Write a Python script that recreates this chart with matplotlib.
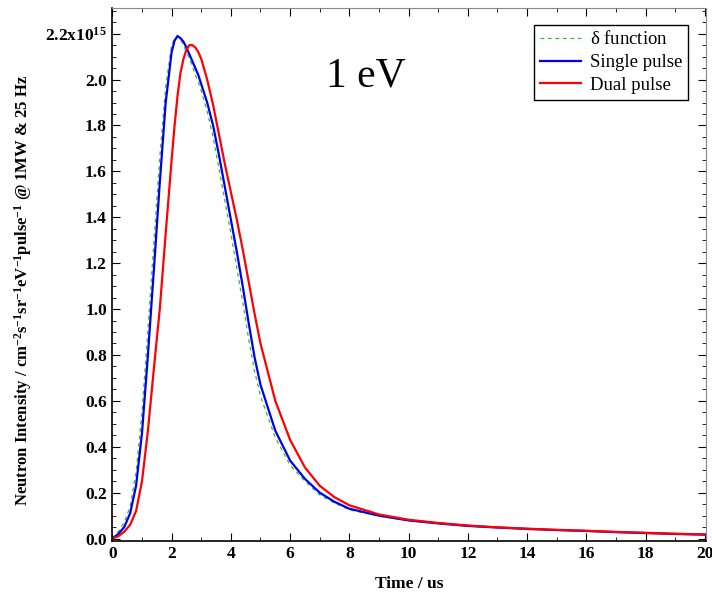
import numpy as np
import matplotlib
matplotlib.use("Agg")
import matplotlib.pyplot as plt
from matplotlib.ticker import MultipleLocator

# Police style Times
plt.rcParams["font.family"] = ["Liberation Serif", "DejaVu Serif"]
plt.rcParams["mathtext.fontset"] = "custom"
plt.rcParams["mathtext.rm"] = "Liberation Serif:bold"
plt.rcParams["mathtext.bf"] = "Liberation Serif:bold"
plt.rcParams["mathtext.default"] = "bf"

# Données (intensité en unités de 1e15)
time_us = [0, 0.2, 0.4, 0.6, 0.8, 1.0, 1.2, 1.4, 1.6, 1.8, 2.0, 2.1, 2.2, 2.3, 2.4, 2.5, 2.6, 2.7, 2.8, 2.9,
           3.0, 3.2, 3.4, 3.6, 3.8, 4.0, 4.2, 4.4, 4.6, 4.8, 5.0, 5.5, 6.0, 6.5,
           7.0, 7.5, 8.0, 9, 10, 11, 12, 13, 14, 15, 16, 17, 18, 19, 20]

delta_function = [0, 0.03, 0.07, 0.14, 0.29, 0.55, 0.91, 1.29, 1.66, 1.97, 2.15, 2.18, 2.19, 2.175, 2.15, 2.12, 2.09, 2.06, 2.02, 1.99,
                  1.95, 1.86, 1.75, 1.61, 1.47, 1.33, 1.18, 1.03, 0.87, 0.73, 0.62, 0.44, 0.32, 0.25,
                  0.19, 0.155, 0.125, 0.098, 0.078, 0.065, 0.055, 0.048, 0.042, 0.037, 0.033, 0.028, 0.024, 0.020, 0.017]

single_pulse = [0, 0.02, 0.05, 0.11, 0.23, 0.46, 0.80, 1.17, 1.55, 1.90, 2.12, 2.17, 2.19, 2.18, 2.165, 2.14, 2.11, 2.08, 2.05, 2.02,
                1.98, 1.90, 1.80, 1.67, 1.53, 1.39, 1.25, 1.10, 0.94, 0.79, 0.67, 0.47, 0.34, 0.26,
                0.20, 0.16, 0.13, 0.10, 0.079, 0.066, 0.055, 0.048, 0.042, 0.037, 0.033, 0.028, 0.024, 0.020, 0.017]

dual_pulse = [0, 0.01, 0.03, 0.06, 0.12, 0.25, 0.47, 0.74, 1.00, 1.33, 1.65, 1.80, 1.93, 2.03, 2.09, 2.13, 2.15, 2.15, 2.14, 2.12,
              2.09, 2.00, 1.89, 1.76, 1.63, 1.51, 1.39, 1.26, 1.12, 0.98, 0.85, 0.60, 0.43, 0.31,
              0.23, 0.18, 0.145, 0.105, 0.082, 0.068, 0.057, 0.049, 0.043, 0.038, 0.034, 0.029, 0.025, 0.021, 0.018]

y_ticks = [0.0, 0.2, 0.4, 0.6, 0.8, 1.0, 1.2, 1.4, 1.6, 1.8, 2.0, 2.2]
y_tick_labels = ["0.0", "0.2", "0.4", "0.6", "0.8", "1.0", "1.2", "1.4", "1.6", "1.8", "2.0",
                 r"2.2x10$^{15}$"]
x_ticks = [0, 2, 4, 6, 8, 10, 12, 14, 16, 18, 20]

# Création du graphique
fig = plt.figure(figsize=(7.12, 5.95), dpi=100)
ax = fig.add_axes([0.157, 0.091, 0.835, 0.896])

ax.plot(time_us, delta_function, color="#33bb33", linestyle=(0, (3, 3)), linewidth=0.9,
        label=r"$\mathregular{\delta}$ function")
ax.plot(time_us, single_pulse, color="#0000ee", linewidth=1.6, label="Single pulse")
ax.plot(time_us, dual_pulse, color="#ff0000", linewidth=1.6, label="Dual pulse")

ax.set_xlim(-0.02, 20.05)
ax.set_ylim(-0.01, 2.313)

ax.set_xticks(x_ticks)
ax.set_xticklabels([str(t) for t in x_ticks])
ax.set_yticks(y_ticks)
ax.set_yticklabels(y_tick_labels)
ax.xaxis.set_minor_locator(MultipleLocator(1))
ax.yaxis.set_minor_locator(MultipleLocator(0.05))
ax.tick_params(which="both", direction="in", top=True, right=True)
ax.tick_params(which="major", length=6, labelsize=12.5)
ax.tick_params(which="minor", length=3)
for lab in ax.get_xticklabels() + ax.get_yticklabels():
    lab.set_fontweight("bold")

for side in ["top", "right"]:
    ax.spines[side].set_color("#888888")
for side in ["left", "bottom"]:
    ax.spines[side].set_linewidth(1.2)

# Annotation de la figure
ax.set_xlabel("Time / us", fontsize=12.5, fontweight="bold", labelpad=10)
ax.set_ylabel(r"Neutron Intensity / cm$^{-2}$s$^{-1}$sr$^{-1}$eV$^{-1}$pulse$^{-1}$ @ 1MW & 25 Hz",
              fontsize=12, fontweight="bold")
ax.yaxis.set_label_coords(-0.13, 0.47)
ax.text(0.428, 0.872, "1 eV", transform=ax.transAxes, fontsize=30, ha="center", va="center")

leg = ax.legend(loc="upper right", bbox_to_anchor=(0.97, 0.968), borderaxespad=0, fontsize=13.5,
                fancybox=False, edgecolor="black", framealpha=1, handlelength=2.2,
                borderpad=0.3, labelspacing=0.3, handletextpad=0.5)
leg.get_frame().set_linewidth(1.0)

fig.savefig("out.png", dpi=100)
